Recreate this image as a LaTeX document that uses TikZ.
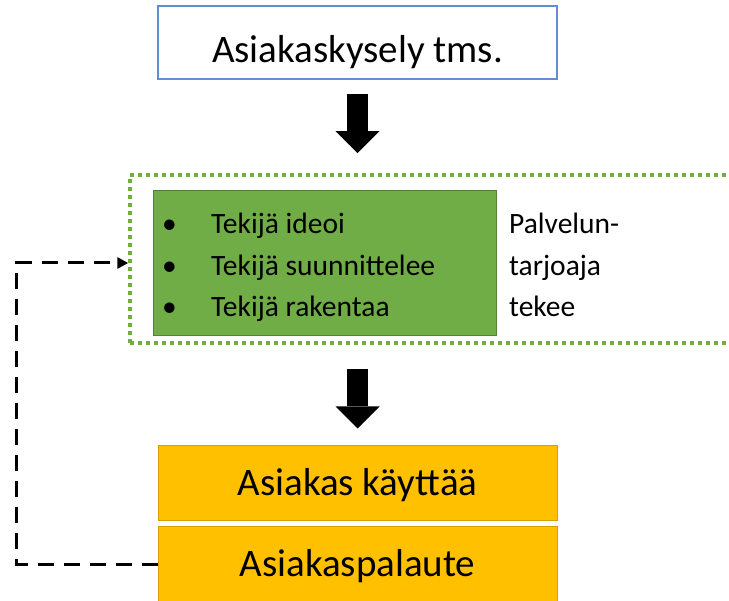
\documentclass[tikz,border=0pt]{standalone}
\usepackage{fontspec}
\setmainfont{Carlito}
\usetikzlibrary{arrows.meta}

\definecolor{surveyblue}{RGB}{100,140,210}
\definecolor{workgreen}{RGB}{112,173,71}
\definecolor{workborder}{RGB}{84,130,53}
\definecolor{useorange}{RGB}{255,192,0}
\definecolor{useborder}{RGB}{214,160,0}

\begin{document}
\begin{tikzpicture}[x=1pt, y=-1pt,
    bigfont/.style={font=\fontsize{39}{47}\selectfont},
    listfont/.style={font=\fontsize{29.5}{41.5}\selectfont},
    stagebox/.style={minimum width=399pt, minimum height=75pt, inner sep=0pt, bigfont, text height=25pt, text depth=0pt},
    blockarrow/.style={line width=21pt, -{Triangle[length=22pt, width=44pt, line width=0pt]}},
    feedback/.style={line width=3pt, dash pattern=on 16pt off 10pt, -{Triangle[length=11pt, width=11pt]}}]
    \useasboundingbox (0,0) rectangle (729,601);

    % Boxes
    \node[stagebox, draw=surveyblue, line width=1.2pt, minimum height=73pt, text height=41pt] (survey) at (357.5,42.5) {Asiakaskysely tms.};
    \node[draw=workgreen, line width=3.5pt, dash pattern=on 4pt off 4pt, minimum width=610pt, minimum height=168pt] (provider) at (435,259) {};
    \node[draw=workborder, fill=workgreen, line width=1pt, minimum width=343pt, minimum height=145pt] (work) at (324.5,263.5) {};
    \node[stagebox, draw=useborder, fill=useorange, line width=1pt] (use) at (357.5,483.5) {Asiakas käyttää};
    \node[stagebox, draw=useborder, fill=useorange, line width=1pt] (palaute) at (357.5,564.5) {Asiakaspalaute};

    % Texts
    \node[listfont, anchor=base west, inner sep=0pt] (tasks) at (162,234) {\begin{tabular}[t]{@{}p{49pt}@{}l@{}}
        \textbullet & Tekijä ideoi\\
        \textbullet & Tekijä suunnittelee\\
        \textbullet & Tekijä rakentaa
    \end{tabular}};
    \node[listfont, anchor=base west, inner sep=0pt] (role) at (509,234) {\begin{tabular}[t]{@{}l@{}}
        Palvelun-\\
        tarjoaja\\
        tekee
    \end{tabular}};

    % Arrows
    \draw[blockarrow] ([yshift=-14pt]survey.south) -- ([yshift=20pt]survey.south |- provider.north);
    \draw[blockarrow] ([yshift=-24pt]survey.south |- provider.south) -- ([yshift=17pt]use.north);
    \draw[feedback] (palaute.west) -- ++(-141,0) |- ([yshift=-4pt]provider.west);
\end{tikzpicture}
\end{document}
